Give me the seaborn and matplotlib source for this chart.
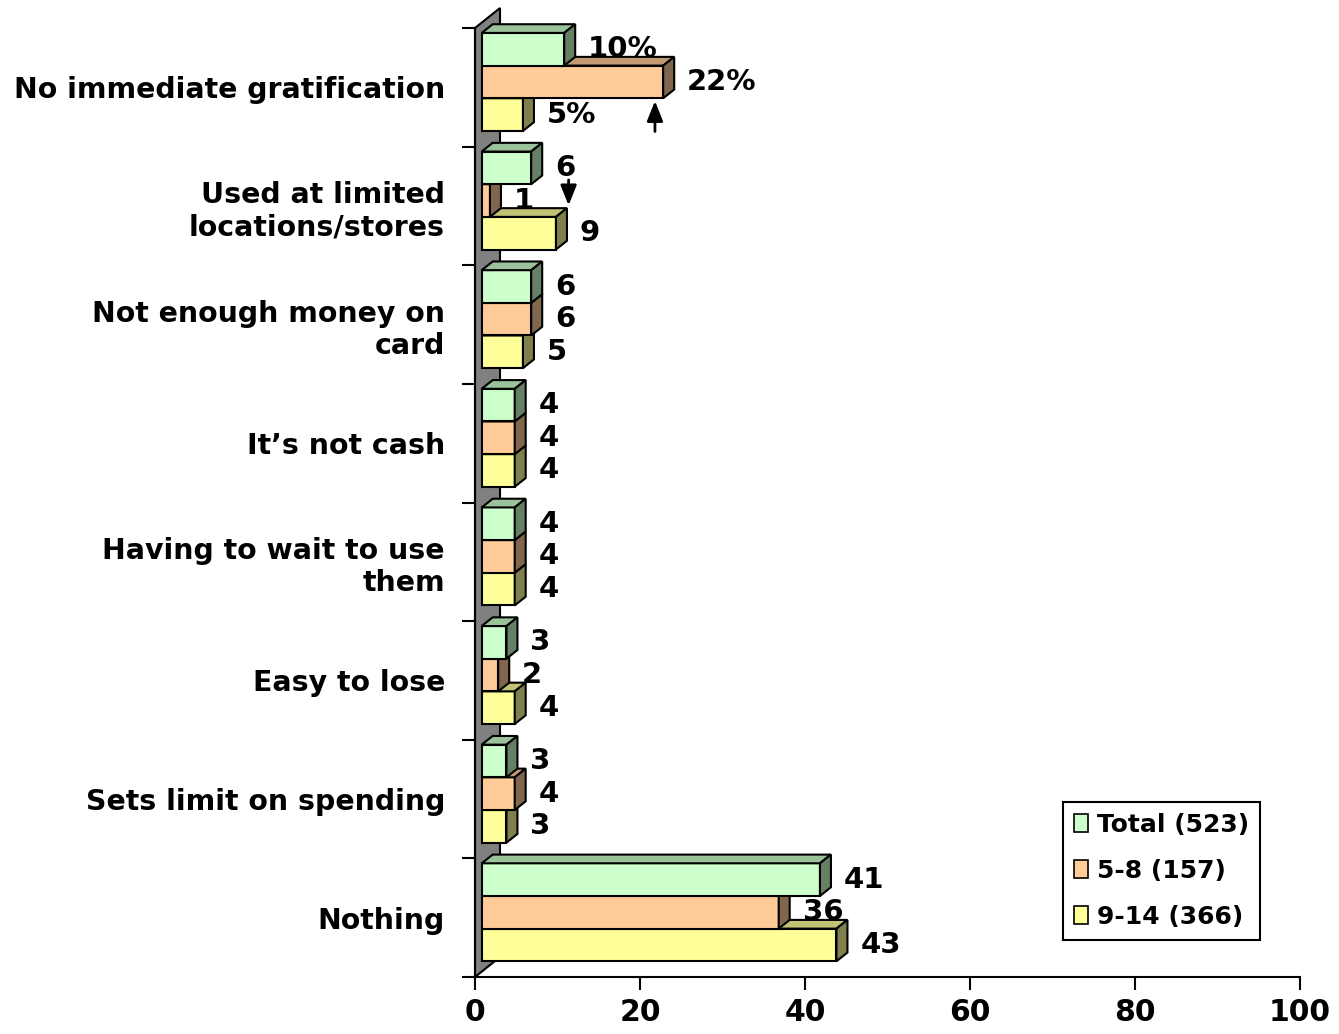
import numpy as np
import pandas as pd
import matplotlib
matplotlib.use("Agg")
import matplotlib.pyplot as plt
import matplotlib.transforms as mtransforms
from matplotlib.patches import Polygon, Patch
import seaborn as sns

# ---- data -------------------------------------------------------------
reasons = [
    "No immediate gratification",
    "Used at limited\nlocations/stores",
    "Not enough money on\ncard",
    "It\u2019s not cash",
    "Having to wait to use\nthem",
    "Easy to lose",
    "Sets limit on spending",
    "Nothing",
]
groups = ["Total (523)", "5-8 (157)", "9-14 (366)"]
total = [10, 6, 6, 4, 4, 3, 3, 41]
age_5_8 = [22, 1, 6, 4, 4, 2, 4, 36]
age_9_14 = [5, 9, 5, 4, 4, 4, 3, 43]
front_colors = ["#CCFFCC", "#FFCC99", "#FFFF99"]
x_ticks = [0, 20, 40, 60, 80, 100]
percent_rows = [0]  # rows whose labels carry a % sign

df = pd.DataFrame({
    "reason": reasons * 3,
    "group": np.repeat(groups, len(reasons)),
    "value": total + age_5_8 + age_9_14,
})

# ---- style --------------------------------------------------------------
sns.set_style("white")
plt.rcParams["font.family"] = ["DejaVu Sans"]
plt.rcParams["font.weight"] = "bold"
for key in ["text.color", "xtick.color", "ytick.color", "xtick.labelcolor",
            "ytick.labelcolor", "axes.labelcolor", "axes.edgecolor"]:
    plt.rcParams[key] = "black"

W, H = 1339, 1034
fig = plt.figure(figsize=(W / 100, H / 100), dpi=100)
ax_l, ax_r, ax_b, ax_t = 475, 1300, 977, 28
ax = fig.add_axes([ax_l / W, (H - ax_b) / H, (ax_r - ax_l) / W, (ax_b - ax_t) / H])

sns.barplot(
    data=df, y="reason", x="value", hue="group", order=reasons, hue_order=groups,
    palette=front_colors, orient="h", width=0.826, gap=0, saturation=1,
    edgecolor="black", linewidth=1.5, errorbar=None, legend=False, ax=ax,
)
ax.set_xlim(0, 100)
ax.set_ylim(len(reasons) - 0.5, -0.5)

# pixel geometry of the 3-D look
px_x = (ax_r - ax_l) / 100.0
px_y = (ax_b - ax_t) / len(reasons)
front_dx, front_dy = 6.7, 5.4      # bars sit a little into the depth
depth_dx, depth_dy = 11.0, 8.7     # bar thickness in depth
wall_dx, wall_dy = 25.0, 20.0      # back wall depth
ddx, ddy = depth_dx / px_x, depth_dy / px_y

front = ax.transData + mtransforms.ScaledTranslation(front_dx / 100, front_dy / 100, fig.dpi_scale_trans)

# back wall
wall = Polygon(
    [(0, 0), (0, 1), (wall_dx / (ax_r - ax_l), 1 + wall_dy / (ax_b - ax_t)),
     (wall_dx / (ax_r - ax_l), wall_dy / (ax_b - ax_t))],
    closed=True, facecolor="#808080", edgecolor="black", linewidth=1.5,
    transform=ax.transAxes, clip_on=False, zorder=1,
)
ax.add_patch(wall)

# extrude each bar with a top and a side face
for cont in ax.containers:
    for p in cont.patches:
        x0, w = p.get_x(), p.get_width()
        y0, h = p.get_y(), p.get_height()
        x1 = x0 + w
        yt, yb = min(y0, y0 + h), max(y0, y0 + h)
        rgb = np.array(p.get_facecolor()[:3])
        z = 20 - (yt + yb) / 2
        p.set_transform(front)
        p.set_clip_on(False)
        p.set_zorder(z)
        top = Polygon([(x0, yt), (x1, yt), (x1 + ddx, yt - ddy), (x0 + ddx, yt - ddy)],
                      closed=True, facecolor=rgb * 0.76, edgecolor="black", linewidth=1.5,
                      transform=front, clip_on=False, zorder=z)
        side = Polygon([(x1, yt), (x1 + ddx, yt - ddy), (x1 + ddx, yb - ddy), (x1, yb)],
                       closed=True, facecolor=rgb * 0.5, edgecolor="black", linewidth=1.5,
                       transform=front, clip_on=False, zorder=z)
        ax.add_patch(top)
        ax.add_patch(side)

# value labels
label_shift = mtransforms.ScaledTranslation((depth_dx + 13) / 100, 0, fig.dpi_scale_trans)
for cont in ax.containers:
    for i, p in enumerate(cont.patches):
        v = p.get_width()
        txt = f"{v:g}%" if i in percent_rows else f"{v:g}"
        yc = p.get_y() + p.get_height() / 2
        ax.text(p.get_x() + v, yc, txt, transform=front + label_shift,
                ha="left", va="center", fontsize=21, fontweight="bold",
                color="black", zorder=30, clip_on=False)

# pointer arrows
arrow_style = dict(arrowstyle="-|>,head_length=0.55,head_width=0.22", color="black",
                   lw=2, mutation_scale=22)
orange_top = ax.containers[1].patches[0]
ax.annotate("", xy=(orange_top.get_width() - 1.0, orange_top.get_y() + orange_top.get_height()),
            xycoords=front, xytext=(0, -36), textcoords="offset pixels",
            arrowprops=arrow_style, zorder=30, annotation_clip=False)
yellow_2 = ax.containers[2].patches[1]
ax.annotate("", xy=(yellow_2.get_width() + ddx + 0.2, yellow_2.get_y() - ddy),
            xycoords=front, xytext=(0, 31), textcoords="offset pixels",
            arrowprops=arrow_style, zorder=30, annotation_clip=False)

# axes
ax.set_yticks(range(len(reasons)), labels=reasons)
ax.set_yticks(np.arange(-0.5, len(reasons) + 0.5, 1), minor=True)
ax.tick_params(axis="y", which="major", length=0, pad=21.6, labelsize=20.4, labelcolor="black")
ax.tick_params(axis="y", which="minor", length=9.4, width=1.5, direction="out", color="black", left=True)
ax.set_xticks(x_ticks)
ax.tick_params(axis="x", which="major", length=9.4, width=1.5, direction="out", color="black",
               bottom=True, pad=6, labelsize=21.5, labelcolor="black")
for lbl in ax.get_xticklabels() + ax.get_yticklabels():
    lbl.set_fontweight("bold")
ax.set_xlabel("")
ax.set_ylabel("")
for s in ["top", "right"]:
    ax.spines[s].set_visible(False)
for s in ["left", "bottom"]:
    ax.spines[s].set_color("black")
    ax.spines[s].set_linewidth(1.5)

# legend
handles = [Patch(facecolor=c, edgecolor="black", linewidth=1.2) for c in front_colors]
leg = fig.legend(handles, groups, loc="lower right",
                 bbox_to_anchor=(1260 / W, 1 - 940 / H), bbox_transform=fig.transFigure,
                 frameon=True, fancybox=False, edgecolor="black", framealpha=1,
                 prop=dict(size=18, weight="bold"), handlelength=0.55, handleheight=0.7,
                 handletextpad=0.35, labelspacing=0.88, borderpad=0.45, borderaxespad=0)
leg.get_frame().set_linewidth(1.5)
for t in leg.get_texts():
    t.set_color("black")

fig.savefig("out.png", dpi=100, facecolor="white")
